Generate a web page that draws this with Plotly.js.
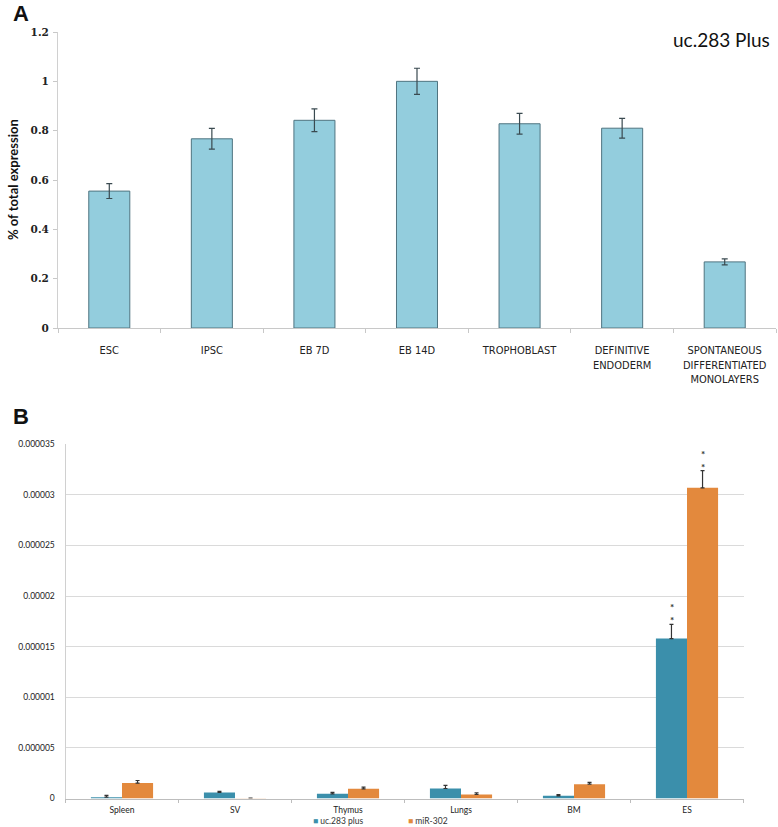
<!DOCTYPE html>
<html>
<head>
<meta charset="utf-8">
<script src="https://cdn.plot.ly/plotly-3.0.1.min.js"></script>
<style>
  html, body { margin: 0; padding: 0; background: #fff; }
  #chart { width: 778px; height: 827px; }
</style>
</head>
<body>
<div id="chart"></div>
<script>
// panel A: uc.283 Plus across cell types
const cellTypes = ['ESC', 'IPSC', 'EB 7D', 'EB 14D', 'TROPHOBLAST', 'DEFINITIVE<br>ENDODERM', 'SPONTANEOUS<br>DIFFERENTIATED<br>MONOLAYERS']
const pctExpression = [0.555, 0.767, 0.842, 1.0, 0.828, 0.81, 0.268]
const pctError = [0.03, 0.042, 0.046, 0.053, 0.042, 0.04, 0.012]

// panel B: tissues, uc.283 plus vs miR-302
const tissues = ['Spleen', 'SV', 'Thymus', 'Lungs', 'BM', 'ES']
const ucPlus = [0.13e-6, 0.6e-6, 0.46e-6, 0.99e-6, 0.26e-6, 15.8e-6]
const ucPlusErr = [0.18e-6, 0.1e-6, 0.15e-6, 0.3e-6, 0.13e-6, 1.4e-6]
const mir302 = [1.52e-6, 0.03e-6, 0.96e-6, 0.4e-6, 1.42e-6, 30.7e-6]
const mir302Err = [0.26e-6, 0, 0.17e-6, 0.17e-6, 0.17e-6, 1.7e-6]
const tickValsB = [0, 5e-6, 10e-6, 15e-6, 20e-6, 25e-6, 30e-6, 35e-6]
const tickTextB = ['0', '0.000005', '0.00001', '0.000015', '0.00002', '0.000025', '0.00003', '0.000035']

const W = 778, H = 827
const px = v => v / W
const py = v => 1 - v / H

const BLUE = '#3b8fab'
const ORANGE = '#e3893d'

const zeros = n => new Array(n).fill(0)

const data = [
  {
    type: 'bar',
    x: cellTypes,
    y: pctExpression,
    xaxis: 'x',
    yaxis: 'y',
    width: 0.4,
    marker: { color: '#93cddd', line: { color: '#4f7480', width: 1 } },
    error_y: { type: 'data', array: pctError, visible: true, color: '#3a4a50', thickness: 1.2, width: 3 },
  },
  {
    type: 'bar',
    name: 'uc.283 plus',
    x: tissues,
    y: ucPlus,
    xaxis: 'x2',
    yaxis: 'y2',
    marker: { color: BLUE },
    error_y: { type: 'data', symmetric: false, array: ucPlusErr, arrayminus: zeros(ucPlusErr.length), visible: true, color: '#333', thickness: 1.2, width: 2 },
  },
  {
    type: 'bar',
    name: 'miR-302',
    x: tissues,
    y: mir302,
    xaxis: 'x2',
    yaxis: 'y2',
    marker: { color: ORANGE },
    error_y: { type: 'data', symmetric: false, array: mir302Err, arrayminus: zeros(mir302Err.length), visible: true, color: '#333', thickness: 1.2, width: 2 },
  },
]

const last = tissues.length - 1

// small legend keys drawn as text, the plotly legend puts too wide a gap
const legendKey = (color, label) => `<span style="color:${color}">■</span> ${label}`

const layout = {
  width: W,
  height: H,
  margin: { l: 0, r: 0, t: 0, b: 0 },
  paper_bgcolor: '#fff',
  plot_bgcolor: '#fff',
  barmode: 'group',
  bargap: 0.45,
  bargroupgap: 0,
  font: { family: 'Lato, "Open Sans", sans-serif', color: '#222' },
  showlegend: false,
  xaxis: {
    domain: [px(58), px(776)],
    anchor: 'y',
    type: 'category',
    showline: true,
    linecolor: '#c8c8c8',
    ticks: 'outside',
    tickson: 'boundaries',
    ticklen: 4,
    tickcolor: '#c8c8c8',
    showgrid: false,
    tickangle: 0,
    ticklabelstandoff: 12,
    tickfont: { family: '"Liberation Sans Narrow", "DejaVu Sans Condensed", sans-serif', size: 11, color: '#222' },
    automargin: false,
    fixedrange: true,
  },
  yaxis: {
    domain: [py(328), py(32)],
    anchor: 'x',
    range: [0, 1.2],
    dtick: 0.2,
    showline: true,
    linecolor: '#d0d0d0',
    ticks: 'outside',
    ticklen: 4,
    tickcolor: '#c8c8c8',
    showgrid: false,
    zeroline: false,
    ticklabelstandoff: 2,
    tickfont: { family: '"DejaVu Serif", serif', size: 10.5, color: '#222', weight: 'bold' },
    automargin: false,
    fixedrange: true,
  },
  xaxis2: {
    domain: [px(65.5), px(743.5)],
    anchor: 'y2',
    type: 'category',
    showline: true,
    linecolor: '#bdbdbd',
    ticks: 'outside',
    tickson: 'boundaries',
    ticklen: 3,
    tickcolor: '#bdbdbd',
    showgrid: false,
    tickangle: 0,
    ticklabelstandoff: 3,
    tickfont: { size: 8.5, color: '#222' },
    automargin: false,
    fixedrange: true,
  },
  yaxis2: {
    domain: [py(798.5), py(444.3)],
    anchor: 'x2',
    range: [0, 35e-6],
    tickvals: tickValsB,
    ticktext: tickTextB,
    showline: true,
    linecolor: '#d0d0d0',
    showgrid: true,
    gridcolor: '#dadada',
    gridwidth: 1,
    zeroline: false,
    ticks: '',
    ticklabelstandoff: 8,
    tickfont: { size: 8.5, color: '#222' },
    automargin: false,
    fixedrange: true,
  },
  annotations: [
    { text: '<b>A</b>', xref: 'paper', yref: 'paper', x: px(11), y: py(14), xanchor: 'left', yanchor: 'middle', showarrow: false, font: { family: '"Liberation Sans", Arial, sans-serif', size: 22, color: '#111' } },
    { text: '<b>B</b>', xref: 'paper', yref: 'paper', x: px(11), y: py(416), xanchor: 'left', yanchor: 'middle', showarrow: false, font: { family: '"Liberation Sans", Arial, sans-serif', size: 22, color: '#111' } },
    { text: 'uc.283 Plus', xref: 'paper', yref: 'paper', x: px(772), y: py(40), xanchor: 'right', yanchor: 'middle', showarrow: false, font: { family: 'Lato, sans-serif', size: 19, color: '#111' } },
    { text: '<b>% of total expression</b>', xref: 'paper', yref: 'paper', x: px(13), y: py(180), xanchor: 'center', yanchor: 'middle', textangle: -90, showarrow: false, font: { family: 'Lato, "Open Sans", sans-serif', size: 13, color: '#111' } },
    { text: '<b>*<br>*</b>', xref: 'x2', yref: 'y2', x: tissues[last], y: ucPlus[last] + ucPlusErr[last], xshift: -15.5, yshift: -4, yanchor: 'bottom', showarrow: false, font: { size: 10, color: '#333' } },
    { text: '<b>*<br>*</b>', xref: 'x2', yref: 'y2', x: tissues[last], y: mir302[last] + mir302Err[last], xshift: 15.5, yshift: -4, yanchor: 'bottom', showarrow: false, font: { size: 10, color: '#333' } },
    { text: legendKey(BLUE, 'uc.283 plus'), xref: 'paper', yref: 'paper', x: px(311), y: py(821), xanchor: 'left', yanchor: 'middle', showarrow: false, font: { size: 8.5, color: '#333' } },
    { text: legendKey(ORANGE, 'miR-302'), xref: 'paper', yref: 'paper', x: px(406), y: py(821), xanchor: 'left', yanchor: 'middle', showarrow: false, font: { size: 8.5, color: '#333' } },
  ],
}

Plotly.newPlot('chart', data, layout, { displayModeBar: false, staticPlot: true })
</script>
</body>
</html>
